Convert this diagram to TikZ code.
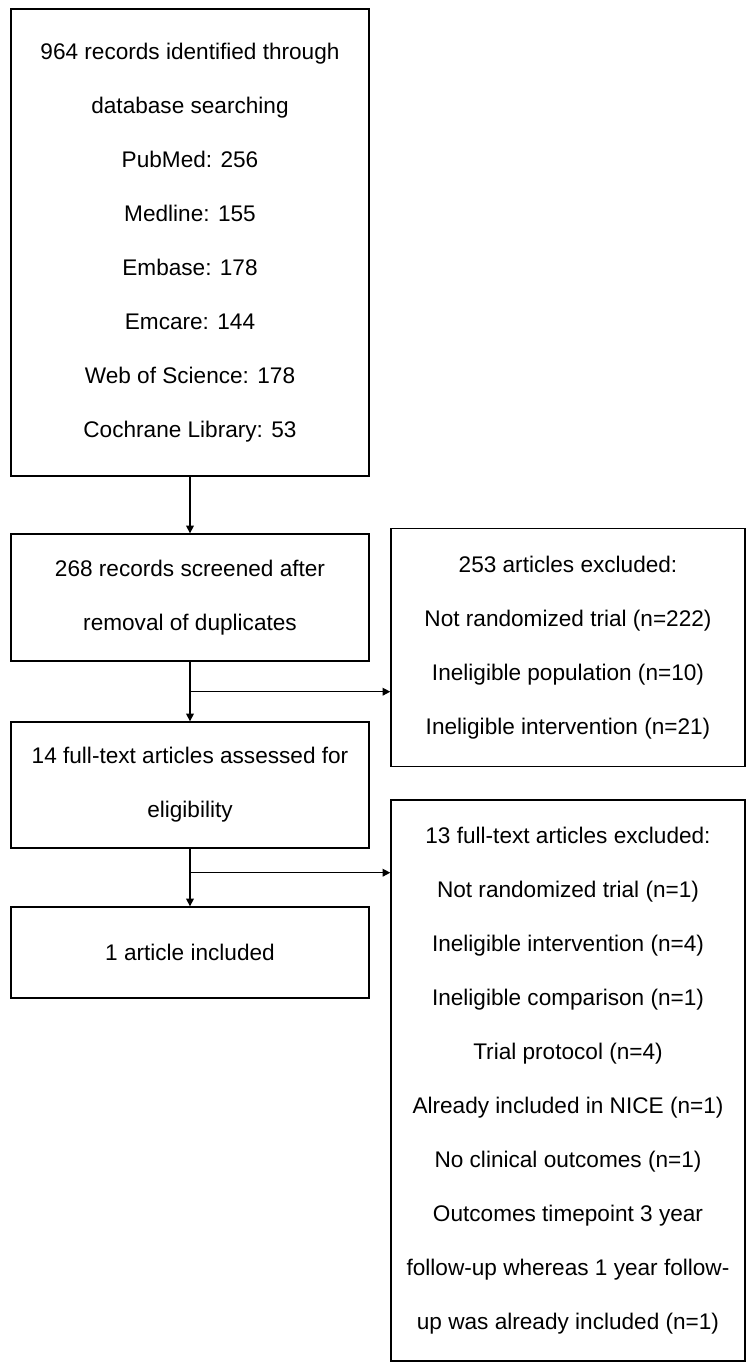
\documentclass[tikz,border=0pt]{standalone}
\usepackage{fontspec}
\setmainfont{Liberation Sans}
\usetikzlibrary{arrows.meta,positioning,calc}

\begin{document}
\begin{tikzpicture}[x=0.5pt, y=-0.5pt,
  stagebox/.style={draw, line width=0.7pt, align=center, inner sep=0pt,
    font=\fontsize{11.3}{27}\selectfont},
  flow/.style={line width=0.7pt, -{Triangle[length=3.8pt, width=3.8pt]}}]
  \useasboundingbox (0,0) rectangle (746,1362);
  \node[stagebox, minimum width=179pt, minimum height=233.5pt] (ident) at (190,242.5)
    {964 records identified through\\database searching\\PubMed: 256\\Medline: 155\\Embase: 178\\Emcare: 144\\Web of Science: 178\\Cochrane Library: 53};
  \node[stagebox, minimum width=179pt, minimum height=63.5pt] (screen) at (190,597.5)
    {268 records screened after\\removal of duplicates};
  \node[stagebox, minimum width=179pt, minimum height=63pt] (assess) at (190,785)
    {14 full-text articles assessed for\\eligibility};
  \node[stagebox, minimum width=179pt, minimum height=45.5pt] (incl) at (190,952.5)
    {1 article included};
  \node[stagebox, minimum width=177pt, minimum height=119pt] (excl1) at (568,647.5)
    {253 articles excluded:\\Not randomized trial (n=222)\\Ineligible population (n=10)\\Ineligible intervention (n=21)};
  \node[stagebox, minimum width=177pt, minimum height=280.5pt] (excl2) at (568,1080.5)
    {13 full-text articles excluded:\\Not randomized trial (n=1)\\Ineligible intervention (n=4)\\Ineligible comparison (n=1)\\Trial protocol (n=4)\\Already included in NICE (n=1)\\No clinical outcomes (n=1)\\Outcomes timepoint 3 year\\follow-up whereas 1 year follow-\\up was already included (n=1)};
  \coordinate (split1) at ([yshift=-15pt]screen.south);
  \coordinate (split2) at ([yshift=-12pt]assess.south);
  \draw[flow] (ident) -- (screen);
  \draw[flow] (screen) -- (assess);
  \draw[flow] (split1) -- (split1 -| excl1.west);
  \draw[flow] (assess) -- (incl);
  \draw[flow] (split2) -- (split2 -| excl2.west);
\end{tikzpicture}
\end{document}
